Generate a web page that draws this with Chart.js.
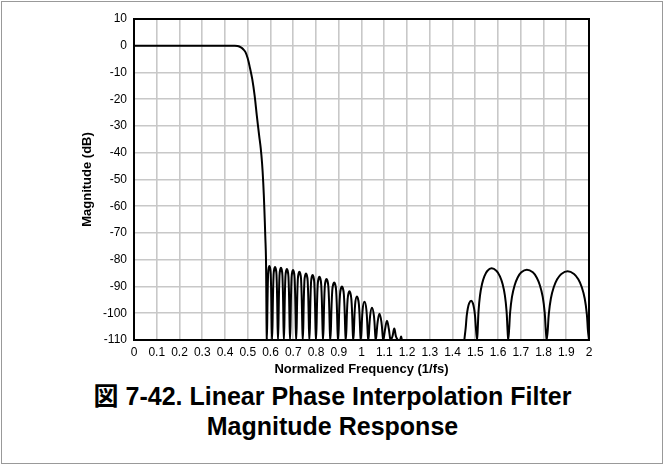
<!DOCTYPE html>
<html>
<head>
<meta charset="utf-8">
<script src="https://cdn.jsdelivr.net/npm/chart.js@4"></script>
<style>
  html, body { margin: 0; padding: 0; background: #fff; }
  body { width: 665px; height: 466px; position: relative; overflow: hidden; }
  #frame { position: absolute; left: 1px; top: 1px; width: 660px; height: 461px; border: 1px solid #999; }
  #wrap { position: absolute; left: 0; top: 0; width: 665px; height: 380px; }
  #caption {
    position: absolute; left: 0; top: 381px; width: 665px;
    text-align: center; font: bold 25px "Liberation Sans", Arial, "Noto Sans CJK JP", sans-serif;
    line-height: 30px; color: #000;
  }
</style>
</head>
<body>
<div id="frame"></div>
<div id="wrap"><canvas id="chart" width="665" height="380"></canvas></div>
<div id="caption">図 7-42. Linear Phase Interpolation Filter<br>Magnitude Response</div>
<script>
// ===== DATA =====
const xTickLabels = ['0', '0.1', '0.2', '0.3', '0.4', '0.5', '0.6', '0.7', '0.8', '0.9', '1',
  '1.1', '1.2', '1.3', '1.4', '1.5', '1.6', '1.7', '1.8', '1.9', '2'];
const yTickLabels = ['-110', '-100', '-90', '-80', '-70', '-60', '-50', '-40', '-30', '-20', '-10', '0', '10'];

// passband + transition band
const passFreq = [0, 0.1, 0.2, 0.3, 0.4, 0.44, 0.455, 0.47, 0.48, 0.49, 0.50, 0.51, 0.52, 0.53,
  0.54, 0.55, 0.557, 0.563, 0.568, 0.573, 0.577, 0.580, 0.584];
const passDb = [0, 0, 0, 0, 0, 0, -0.1, -0.6, -1.3, -2.4, -4.8, -8.4, -12.6, -18.5,
  -26.2, -33.5, -38.3, -44, -51, -61, -71, -79, -110];

// stopband ripple lobes (shoulder, peak, shoulder, null)
const stopFreq = [
  0.5895, 0.595, 0.601, 0.607,
  0.6135, 0.620, 0.6265, 0.633,
  0.6395, 0.646, 0.6525, 0.659,
  0.6655, 0.672, 0.679, 0.686,
  0.6925, 0.699, 0.706, 0.713,
  0.720, 0.727, 0.7345, 0.742,
  0.749, 0.756, 0.7635, 0.771,
  0.778, 0.785, 0.7925, 0.800,
  0.8075, 0.815, 0.823, 0.831,
  0.8385, 0.846, 0.8545, 0.863,
  0.8715, 0.880, 0.8885, 0.897,
  0.9055, 0.914, 0.9225, 0.931,
  0.939, 0.947, 0.9555, 0.964,
  0.972, 0.980, 0.9885, 0.997,
  1.005, 1.013, 1.0215, 1.030,
  1.038, 1.046, 1.0545, 1.063,
  1.071, 1.079, 1.0875, 1.096,
  1.104, 1.112, 1.120, 1.128,
  1.136, 1.144, 1.1515, 1.159,
  1.1665, 1.174, 1.1815, 1.189];
const stopDb = [
  -85.3, -82.3, -85.3, -110,
  -85.7, -82.7, -85.7, -110,
  -86.0, -83.0, -86.0, -110,
  -86.5, -83.5, -86.5, -110,
  -86.8, -83.8, -86.8, -110,
  -87.5, -84.5, -87.5, -110,
  -88.1, -85.1, -88.1, -110,
  -88.7, -85.7, -88.7, -110,
  -89.4, -86.4, -89.4, -110,
  -90.2, -87.2, -90.2, -110,
  -91.5, -88.5, -91.5, -110,
  -93.0, -90.0, -93.0, -110,
  -94.8, -91.8, -94.8, -110,
  -96.7, -93.7, -96.7, -110,
  -98.7, -95.7, -98.7, -110,
  -100.9, -97.9, -100.9, -110,
  -103.2, -100.2, -103.2, -110,
  -105.8, -102.8, -105.8, -110,
  -108.7, -105.7, -108.7, -110,
  -111.7, -108.7, -111.7, -110];

// image lobes around 1.5 - 2 fs
const imageFreq = [
  1.452, 1.458, 1.4622, 1.467, 1.473, 1.482, 1.4898, 1.495, 1.4992, 1.5028,
  1.508, 1.5112, 1.5144, 1.5208, 1.5298, 1.540, 1.5528, 1.572, 1.5939, 1.6085, 1.6202, 1.6304, 1.6377, 1.6414,
  1.645, 1.6491, 1.6532, 1.6614, 1.6729, 1.686, 1.7024, 1.727, 1.7531, 1.7705, 1.7844, 1.7966, 1.8053, 1.8097,
  1.814, 1.8186, 1.8232, 1.8324, 1.8453, 1.860, 1.8784, 1.906, 1.9342, 1.953, 1.968, 1.9812, 1.9906, 1.9953, 2.0];
const imageDb = [
  -110, -105.5, -101.2, -98.3, -96.3, -95.3, -96.3, -98.3, -101.2, -105.5,
  -110, -105.3, -99.3, -93.4, -89.1, -86.2, -84.2, -83.2, -84.2, -86.2, -89.1, -93.4, -99.3, -105.3,
  -110, -105.8, -99.8, -93.9, -89.6, -86.7, -84.7, -83.7, -84.7, -86.7, -89.6, -93.9, -99.8, -105.8,
  -110, -106.4, -100.4, -94.5, -90.2, -87.3, -85.3, -84.3, -85.3, -87.3, -90.2, -94.5, -100.4, -106.4, -110];

// ===== CHART =====
const FONT = '"Liberation Sans", Arial, sans-serif';

function toPoints(xs, ys) {
  return xs.map((x, i) => ({ x: x, y: ys[i] }));
}

// black frame round the plot area
const plotFrame = {
  id: 'plotFrame',
  afterDatasetsDraw(chart) {
    const { ctx, chartArea: a } = chart;
    ctx.save();
    ctx.strokeStyle = '#000';
    ctx.lineWidth = 2;
    ctx.strokeRect(a.left, a.top, a.right - a.left, a.bottom - a.top);
    ctx.restore();
  }
};

Chart.defaults.color = '#000';
Chart.defaults.font.family = FONT;

new Chart(document.getElementById('chart'), {
  type: 'line',
  data: {
    datasets: [
      {
        data: toPoints(passFreq.concat(stopFreq), passDb.concat(stopDb)),
        borderColor: '#000',
        borderWidth: 2,
        pointRadius: 0,
        tension: 0.4
      },
      {
        data: toPoints(imageFreq, imageDb),
        borderColor: '#000',
        borderWidth: 2,
        pointRadius: 0,
        tension: 0.3
      }
    ]
  },
  options: {
    responsive: false,
    animation: false,
    layout: { padding: { left: 76, right: 76, top: 19, bottom: 0 } },
    plugins: {
      legend: { display: false },
      tooltip: { enabled: false }
    },
    scales: {
      x: {
        type: 'linear',
        min: 0,
        max: 2,
        afterFit(scale) { scale.height = 40; },
        grid: { color: '#c8c8c8', lineWidth: 1.6, drawTicks: false },
        border: { display: false },
        ticks: {
          stepSize: 0.1,
          autoSkip: false,
          maxRotation: 0,
          padding: 5,
          font: { size: 12 },
          callback: (v, i) => xTickLabels[i]
        },
        title: {
          display: true,
          text: 'Normalized Frequency (1/fs)',
          font: { size: 13, weight: 'bold' },
          padding: { top: 0, bottom: 3 }
        }
      },
      y: {
        min: -110,
        max: 10,
        afterFit(scale) { scale.width = 58; },
        grid: { color: '#c8c8c8', lineWidth: 1.6, drawTicks: false },
        border: { display: false },
        ticks: {
          stepSize: 10,
          padding: 7,
          font: { size: 12 },
          callback: (v, i) => yTickLabels[i]
        },
        title: {
          display: true,
          text: 'Magnitude (dB)',
          font: { size: 13, weight: 'bold' },
          padding: { top: 4, bottom: 0 }
        }
      }
    }
  },
  plugins: [plotFrame]
});
</script>
</body>
</html>
